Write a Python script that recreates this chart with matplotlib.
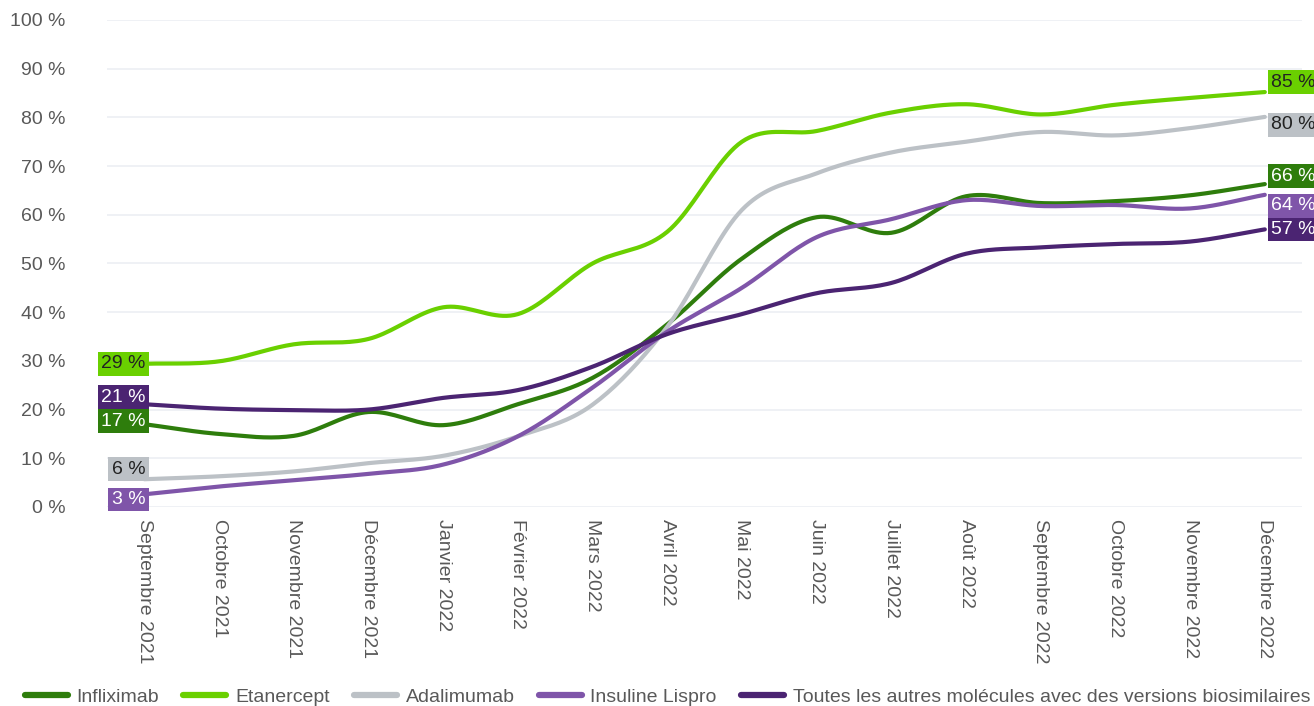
import numpy as np
import matplotlib.pyplot as plt

plt.rcParams['font.family'] = ['Liberation Sans', 'DejaVu Sans']

months = ['Septembre 2021', 'Octobre 2021', 'Novembre 2021', 'Décembre 2021',
          'Janvier 2022', 'Février 2022', 'Mars 2022', 'Avril 2022', 'Mai 2022',
          'Juin 2022', 'Juillet 2022', 'Août 2022', 'Septembre 2022',
          'Octobre 2022', 'Novembre 2022', 'Décembre 2022']

infliximab = [17.0, 15.0, 14.6, 19.5, 16.8, 21.1, 26.5, 37.5, 51.0, 59.5,
              56.3, 63.8, 62.4, 62.8, 64.0, 66.3]
etanercept = [29.4, 29.9, 33.4, 34.5, 41.0, 39.6, 50.0, 56.5, 75.0, 77.2,
              81.0, 82.7, 80.6, 82.6, 84.0, 85.2]
adalimumab = [5.7, 6.3, 7.3, 9.0, 10.5, 14.5, 21.0, 37.0, 61.0, 68.5,
              72.8, 75.0, 77.0, 76.3, 77.8, 80.1]
lispro = [2.6, 4.2, 5.5, 6.8, 8.7, 14.5, 24.5, 36.0, 45.0, 55.4,
          59.1, 63.0, 61.8, 62.0, 61.3, 64.1]
autres = [21.1, 20.2, 19.9, 20.0, 22.4, 24.0, 28.8, 35.5, 39.6, 43.9,
          46.0, 52.0, 53.3, 54.0, 54.5, 57.0]

series = [
    ('Infliximab', infliximab, '#2e7d0c', 'white'),
    ('Etanercept', etanercept, '#6ad000', '#222222'),
    ('Adalimumab', adalimumab, '#bcc1c6', '#222222'),
    ('Insuline Lispro', lispro, '#7f55a9', 'white'),
    ('Toutes les autres molécules avec des versions biosimilaires', autres, '#4b2472', 'white'),
]

# vertical nudges (pixels) for the first / last value labels
first_dy = {'Infliximab': 3, 'Etanercept': 0, 'Adalimumab': 10,
            'Insuline Lispro': -5, 'Toutes les autres molécules avec des versions biosimilaires': 7}
last_dy = {'Infliximab': 8, 'Etanercept': 10, 'Adalimumab': -8,
           'Insuline Lispro': -11, 'Toutes les autres molécules avec des versions biosimilaires': 0}


def smooth(x, y, n=20):
    # Catmull-Rom spline through the points
    x = np.asarray(x, float)
    y = np.asarray(y, float)
    px = np.concatenate([[2 * x[0] - x[1]], x, [2 * x[-1] - x[-2]]])
    py = np.concatenate([[2 * y[0] - y[1]], y, [2 * y[-1] - y[-2]]])
    t = np.linspace(0, 1, n, endpoint=False)
    xs, ys = [], []
    for i in range(1, len(px) - 2):
        for p, out in ((px, xs), (py, ys)):
            p0, p1, p2, p3 = p[i - 1], p[i], p[i + 1], p[i + 2]
            out.extend(0.5 * ((2 * p1) + (-p0 + p2) * t
                              + (2 * p0 - 5 * p1 + 4 * p2 - p3) * t ** 2
                              + (-p0 + 3 * p1 - 3 * p2 + p3) * t ** 3))
    xs.append(x[-1])
    ys.append(y[-1])
    return np.array(xs), np.array(ys)


fig = plt.figure(figsize=(13.14, 7.06), dpi=100)
ax = fig.add_axes([0.0814, 0.2819, 0.9096, 0.6898])

x = np.arange(len(months))
for name, vals, color, tcolor in series:
    sx, sy = smooth(x, vals)
    ax.plot(sx, sy, color=color, lw=3, solid_capstyle='round', label=name)

for name, vals, color, tcolor in series:
    box = dict(boxstyle='square,pad=0.17', fc=color, ec='none')
    ax.annotate(f'{round(vals[0]):d} %', (x[0], vals[0]), xytext=(1, first_dy[name]),
                textcoords='offset pixels', ha='right', va='center', fontsize=14,
                color=tcolor, bbox=box, zorder=5)
    ax.annotate(f'{round(vals[-1]):d} %', (x[-1], vals[-1]), xytext=(6, last_dy[name]),
                textcoords='offset pixels', ha='left', va='center', fontsize=14,
                color=tcolor, bbox=box, zorder=5, annotation_clip=False)

ax.set_xlim(-0.5, len(months) - 0.5)
ax.set_ylim(0, 100)
ax.set_yticks(range(0, 101, 10))
ax.set_yticklabels([f'{v} %' for v in range(0, 101, 10)])
ax.set_xticks(x)
ax.set_xticklabels(months, rotation=270, ha='center', va='top')
ax.tick_params(length=0, labelsize=14, colors='#595959')
ax.tick_params(axis='y', pad=30)
ax.tick_params(axis='x', pad=9)
ax.grid(axis='y', color='#eceff3', lw=1.2)
ax.set_axisbelow(True)
for s in ax.spines.values():
    s.set_visible(False)

leg = fig.legend(loc='lower center', bbox_to_anchor=(0.508, -0.025), ncol=5, frameon=False,
                 fontsize=14, handlelength=2.2, columnspacing=1.25, handletextpad=0.45)
for h in leg.get_lines():
    h.set_linewidth(4.5)
    h.set_solid_capstyle('round')
for t in leg.get_texts():
    t.set_color('#595959')

fig.savefig('out.png', dpi=100)
